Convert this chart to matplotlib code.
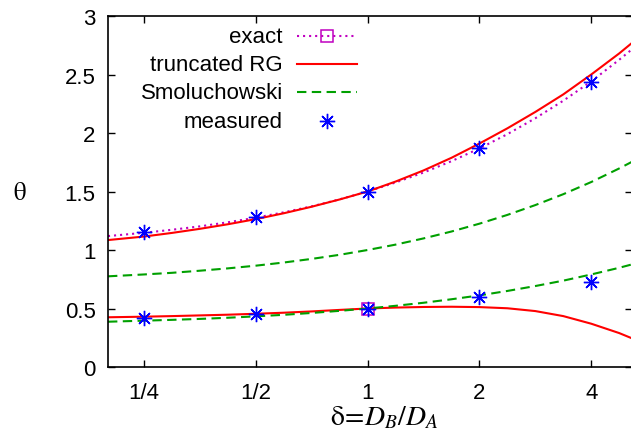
import numpy as np
import matplotlib
matplotlib.use("Agg")
import matplotlib.pyplot as plt
from matplotlib.lines import Line2D

plt.rcParams['font.family'] = ['Liberation Sans', 'DejaVu Sans']
plt.rcParams['mathtext.fontset'] = 'stix'

# delta = D_B / D_A, sampled along the curves (quarter octaves)
delta = [0.2, 0.25, 0.2973, 0.3536, 0.4204, 0.5, 0.5946, 0.7071, 0.8409, 1.0,
         1.1892, 1.4142, 1.6818, 2.0, 2.3784, 2.8284, 3.3636, 4.0, 4.7568, 5.15]

exact_up = [1.119, 1.147, 1.173, 1.202, 1.237, 1.276, 1.322, 1.373, 1.433, 1.500,
            1.577, 1.662, 1.759, 1.868, 1.990, 2.126, 2.276, 2.441, 2.626, 2.715]

rg_up = [1.085, 1.115, 1.146, 1.181, 1.220, 1.264, 1.314, 1.370, 1.432, 1.500,
         1.585, 1.680, 1.788, 1.910, 2.040, 2.180, 2.330, 2.500, 2.680, 2.770]
rg_low = [0.425, 0.430, 0.435, 0.441, 0.447, 0.455, 0.464, 0.475, 0.488, 0.500,
          0.508, 0.513, 0.515, 0.512, 0.502, 0.478, 0.435, 0.370, 0.290, 0.245]

smol_up = [0.775, 0.791, 0.805, 0.823, 0.843, 0.866, 0.893, 0.924, 0.959, 1.000,
           1.046, 1.099, 1.158, 1.225, 1.300, 1.384, 1.477, 1.581, 1.697, 1.754]
smol_low = [0.387, 0.396, 0.403, 0.411, 0.421, 0.433, 0.446, 0.462, 0.480, 0.500,
            0.523, 0.549, 0.579, 0.612, 0.650, 0.692, 0.738, 0.791, 0.848, 0.877]

# exact value known at delta = 1 for the lower exponent
exact_pt_x = [1.0]
exact_pt_y = [0.5]

# simulation results
meas_x = [0.25, 0.5, 1.0, 2.0, 4.0]
meas_up = [1.15, 1.28, 1.50, 1.87, 2.44]
meas_low = [0.42, 0.45, 0.50, 0.60, 0.73]

xticks = [0.25, 0.5, 1, 2, 4]
xticklabels = ['1/4', '1/2', '1', '2', '4']
yticks = [0, 0.5, 1, 1.5, 2, 2.5, 3]
yticklabels = ['0', '0.5', '1', '1.5', '2', '2.5', '3']

W, H = 631, 439
fig = plt.figure(figsize=(W / 100, H / 100), dpi=100)
ax_l, ax_r, ax_t, ax_b = 108, 632, 17, 368
ax = fig.add_axes([ax_l / W, 1 - ax_b / H, (ax_r - ax_l) / W, (ax_b - ax_t) / H])

c_exact = '#c000c0'
c_rg = '#ff0000'
c_smol = '#00a000'
c_meas = '#0000ff'
star = (8, 2, 0)
lw = 1.5
dotted = (1.0, 1.9)
dashed = (4.5, 2.6)

ax.plot(delta, exact_up, color=c_exact, lw=lw, dashes=dotted)
ax.plot(exact_pt_x, exact_pt_y, ls='none', marker='s', ms=9, mfc='none',
        mec=c_exact, mew=1.1)
ax.plot(delta, rg_up, color=c_rg, lw=lw)
ax.plot(delta, rg_low, color=c_rg, lw=lw)
ax.plot(delta, smol_up, color=c_smol, lw=lw, dashes=dashed)
ax.plot(delta, smol_low, color=c_smol, lw=lw, dashes=dashed)
for yy in (meas_up, meas_low):
    ax.plot(meas_x, yy, ls='none', marker=star, ms=11, mec=c_meas, mew=1.0)

ax.set_xscale('log')
ax.set_xlim(0.2, 5.15)
ax.set_ylim(0, 3)
ax.set_xticks(xticks)
ax.set_xticklabels(xticklabels)
ax.minorticks_off()
ax.set_yticks(yticks)
ax.set_yticklabels(yticklabels)
ax.tick_params(direction='in', length=5, width=1, top=True, right=True,
               labelsize=16, colors='black')
ax.tick_params(axis='y', pad=9)
ax.tick_params(axis='x', pad=11)
for s in ax.spines.values():
    s.set_linewidth(1.2)

# axis labels
fig.text(384 / W, 1 - 418 / H, r'$\mathrm{\delta}\!=\!D_B/D_A$', fontsize=20,
         ha='center', va='center')
fig.text(20 / W, 1 - 193 / H, r'$\mathrm{\theta}$', fontsize=18,
         ha='center', va='center')

# key: text on the left, sample on the right
def ax_x(px):
    return (px - ax_l) / (ax_r - ax_l)

def ax_y(py):
    return (ax_b - py) / (ax_b - ax_t)

key_rows = [37, 65, 93, 122]
key_labels = ['exact', 'truncated RG', 'Smoluchowski', 'measured']
key_styles = [dict(color=c_exact, lw=lw, dashes=dotted),
              dict(color=c_rg, lw=lw),
              dict(color=c_smol, lw=lw, dashes=dashed),
              None]
for row, lab, st in zip(key_rows, key_labels, key_styles):
    ax.text(ax_x(283), ax_y(row), lab, transform=ax.transAxes, ha='right',
            va='center', fontsize=16)
    if st is not None:
        ax.add_line(Line2D([ax_x(297), ax_x(357)], [ax_y(row)] * 2,
                           transform=ax.transAxes, **st))
ax.add_line(Line2D([ax_x(327)], [ax_y(key_rows[0])], transform=ax.transAxes,
                   ls='none', marker='s', ms=9, mfc='none', mec=c_exact, mew=1.1))
ax.add_line(Line2D([ax_x(327)], [ax_y(key_rows[3])], transform=ax.transAxes,
                   ls='none', marker=star, ms=11, mec=c_meas, mew=1.0))

fig.savefig('out.png', dpi=100)
